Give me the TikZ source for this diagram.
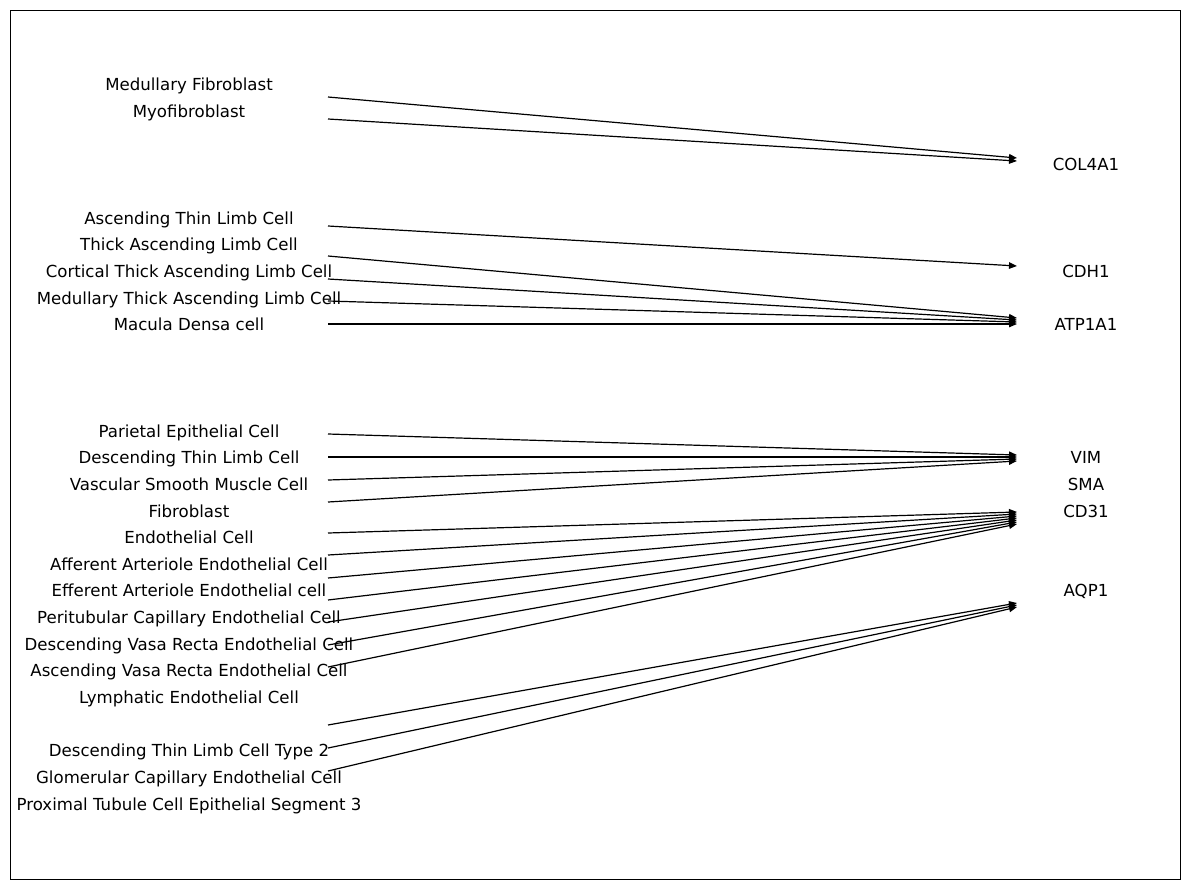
\documentclass[tikz,border=0pt]{standalone}
\usepackage{fontspec}
\setmainfont{DejaVu Sans}
\usetikzlibrary{arrows.meta}
\begin{document}
\begin{tikzpicture}[x=1pt,y=-1pt,
  lbl/.style={inner sep=0pt,anchor=base,yshift=-6pt,font=\fontsize{16.6}{20}\selectfont},
  conn/.style={line width=1.2pt,-{Triangle[length=8pt,width=6.5pt]}}]
\useasboundingbox (0,0) rectangle (1189,889);
\draw[line width=1pt] (10,10) rectangle (1180,879);
% left labels
\node[lbl] (l1) at (189,84) {Medullary Fibroblast};
\node[lbl] (l2) at (189,111) {Myofibroblast};
\node[lbl] (l3) at (189,218) {Ascending Thin Limb Cell};
\node[lbl] (l4) at (189,244) {Thick Ascending Limb Cell};
\node[lbl] (l5) at (189,271) {Cortical Thick Ascending Limb Cell};
\node[lbl] (l6) at (189,298) {Medullary Thick Ascending Limb Cell};
\node[lbl] (l7) at (189,324) {Macula Densa cell};
\node[lbl] (l8) at (189,431) {Parietal Epithelial Cell};
\node[lbl] (l9) at (189,457) {Descending Thin Limb Cell};
\node[lbl] (l10) at (189,484) {Vascular Smooth Muscle Cell};
\node[lbl] (l11) at (189,511) {Fibroblast};
\node[lbl] (l12) at (189,537) {Endothelial Cell};
\node[lbl] (l13) at (189,564) {Afferent Arteriole Endothelial Cell};
\node[lbl] (l14) at (189,590) {Efferent Arteriole Endothelial cell};
\node[lbl] (l15) at (189,617) {Peritubular Capillary Endothelial Cell};
\node[lbl] (l16) at (189,644) {Descending Vasa Recta Endothelial Cell};
\node[lbl] (l17) at (189,670) {Ascending Vasa Recta Endothelial Cell};
\node[lbl] (l18) at (189,697) {Lymphatic Endothelial Cell};
\node[lbl] (l19) at (189,750) {Descending Thin Limb Cell Type 2};
\node[lbl] (l20) at (189,777) {Glomerular Capillary Endothelial Cell};
\node[lbl] (l21) at (189,804) {Proximal Tubule Cell Epithelial Segment 3};
% right labels
\node[lbl] (r1) at (1086,164) {COL4A1};
\node[lbl] (r2) at (1086,271) {CDH1};
\node[lbl] (r3) at (1086,324) {ATP1A1};
\node[lbl] (r4) at (1086,457) {VIM};
\node[lbl] (r5) at (1086,484) {SMA};
\node[lbl] (r6) at (1086,511) {CD31};
\node[lbl] (r7) at (1086,590) {AQP1};
% start points
\foreach \n/\y in {1/97,2/119,3/226,4/256,5/279,6/301,7/324,8/434,9/457,10/480,11/502,
  12/533,13/555,14/578,15/600,16/622,17/645,18/667,19/725,20/748,21/771}
  {\coordinate (s\n) at (328,\y);}
% end points
\foreach \n/\y in {1/158,2/161,3/266,4/318,5/320,6/322,7/324,8/455,9/457,10/459,11/461,
  12/512,13/514,14/516,15/518,16/520,17/522,18/524,19/603,20/605,21/607}
  {\coordinate (e\n) at (1017,\y);}
\foreach \n in {1,...,21} {\draw[conn] (s\n) -- (e\n);}
\end{tikzpicture}
\end{document}
